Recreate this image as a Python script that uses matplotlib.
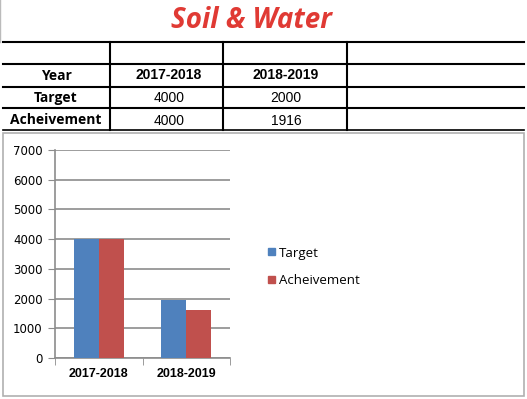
import numpy as np
import matplotlib
matplotlib.use("Agg")
import matplotlib.pyplot as plt

# data
years = ["2017-2018", "2018-2019"]
target = [4000, 1950]
achievement = [4000, 1600]
table_rows = ["Year", "Target", "Acheivement"]
table_target = ["4000", "2000"]
table_achievement = ["4000", "1916"]

W, H = 527, 399
fig = plt.figure(figsize=(W / 100, H / 100), dpi=100)

# overlay in pixel coordinates for the table part
ov = fig.add_axes([0, 0, 1, 1])
ov.set_xlim(0, W)
ov.set_ylim(H, 0)
ov.axis("off")

ov.text(251, 20, "Soil & Water", color="#e03a34", fontsize=20, fontweight="bold",
        style="italic", family="Open Sans", ha="center", va="center")

# table lines
for y, lw in [(42, 1.5), (64, 1.5), (87, 1.5), (108, 1.5), (130, 1.2)]:
    ov.plot([3, 524], [y, y], color="black", lw=lw)
for x in [110, 223, 347]:
    ov.plot([x, x], [42, 130], color="black", lw=1.5)
ov.plot([0, 0], [0, 42], color="#bbbbbb", lw=1)

row_y = [76, 98, 120]
for y, lab in zip(row_y, table_rows):
    ov.text(56, y, lab, fontsize=10, fontweight="bold", family="Open Sans",
            ha="center", va="center")
col_x = [169, 286]
for x, yr in zip(col_x, years):
    ov.text(x, 75, yr, fontsize=10, fontweight="bold", family="Liberation Sans",
            ha="center", va="center")
for x, v in zip(col_x, table_target):
    ov.text(x, 98, v, fontsize=10, family="Liberation Sans", ha="center", va="center")
for x, v in zip(col_x, table_achievement):
    ov.text(x, 121, v, fontsize=10, family="Liberation Sans", ha="center", va="center")

# chart border
ov.add_patch(plt.Rectangle((3, 133), 521, 263, fill=False, edgecolor="#b0b0b0", lw=1.2))

# legend
ov.add_patch(plt.Rectangle((268, 248), 7, 7, color="#4f81bd"))
ov.add_patch(plt.Rectangle((268, 276), 7, 7, color="#c0504d"))
ov.text(279, 253, "Target", fontsize=9.5, family="Open Sans", va="center")
ov.text(279, 281, "Acheivement", fontsize=9.5, family="Open Sans", va="center")

# bar chart
ax = fig.add_axes([55 / W, 1 - 358 / H, 175 / W, 208 / H])
x = np.arange(len(years))
bw = 0.286
ax.bar(x - bw / 2, target, bw, color="#4f81bd", zorder=3)
ax.bar(x + bw / 2, achievement, bw, color="#c0504d", zorder=3)
ax.set_xlim(-0.5, 1.5)
ax.set_ylim(0, 7000)
ax.set_yticks(np.arange(0, 7001, 1000))
ax.yaxis.grid(True, color="#8c8c8c", lw=1.2, zorder=0)
ax.set_xticks(x)
ax.set_xticklabels(years, fontsize=9, fontweight="bold", family="Liberation Sans")
ax.set_xticks([-0.5, 0.5, 1.5], minor=True)
ax.tick_params(axis="x", which="major", length=0, pad=7)
ax.tick_params(axis="x", which="minor", length=5, color="#8c8c8c")
ax.tick_params(axis="y", length=5, color="#8c8c8c", labelsize=8.5, pad=4)
for lab in ax.get_yticklabels():
    lab.set_family("DejaVu Sans")
for s in ["top", "right"]:
    ax.spines[s].set_visible(False)
for s in ["left", "bottom"]:
    ax.spines[s].set_color("#8c8c8c")
    ax.spines[s].set_linewidth(1.2)
ax.set_facecolor("none")

fig.savefig("out.png", dpi=100)
